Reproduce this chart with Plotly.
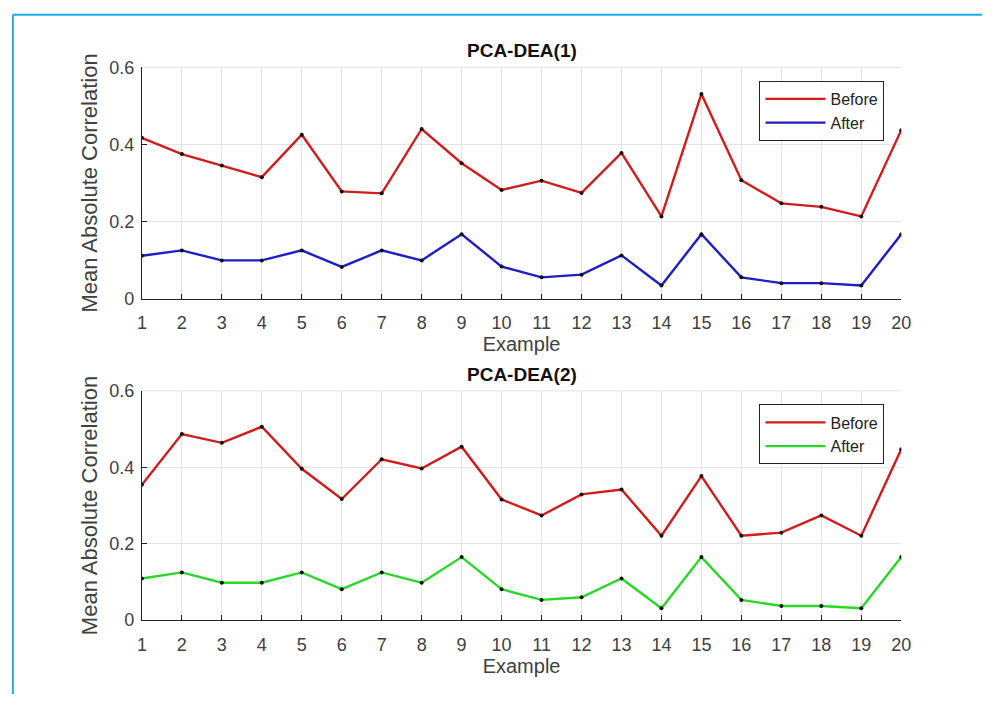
import plotly.graph_objects as go

examples = list(range(1, 21))
before_1 = [0.417, 0.375, 0.345, 0.315, 0.425, 0.278, 0.273, 0.440, 0.351, 0.282,
            0.306, 0.274, 0.378, 0.213, 0.531, 0.307, 0.247, 0.238, 0.213, 0.437]
after_1 = [0.111, 0.125, 0.099, 0.099, 0.125, 0.082, 0.125, 0.099, 0.167, 0.083,
           0.055, 0.062, 0.112, 0.034, 0.167, 0.055, 0.040, 0.040, 0.034, 0.167]
before_2 = [0.354, 0.487, 0.464, 0.506, 0.396, 0.317, 0.421, 0.397, 0.454, 0.316,
            0.274, 0.329, 0.342, 0.221, 0.377, 0.221, 0.229, 0.274, 0.221, 0.447]
after_2 = [0.109, 0.125, 0.098, 0.098, 0.125, 0.081, 0.125, 0.098, 0.165, 0.081,
           0.053, 0.060, 0.109, 0.031, 0.165, 0.053, 0.037, 0.037, 0.031, 0.165]
y_ticks = [0, 0.2, 0.4, 0.6]
y_tick_labels = ["0", "0.2", "0.4", "0.6"]
titles = ["PCA-DEA(1)", "PCA-DEA(2)"]
x_title = "Example"
y_title = "Mean Absolute Correlation"
series_names = ["Before", "After"]

RED = "#d01c1c"
BLUE = "#1e1ec4"
GREEN = "#2ad62a"
W, H = 992, 704
FONT = "Liberation Sans, Arial, sans-serif"

fig = go.Figure()

panels = [
    (before_1, after_1, BLUE, "x", "y", "legend"),
    (before_2, after_2, GREEN, "x2", "y2", "legend2"),
]
for bef, aft, col, xa, ya, lg in panels:
    for vals, c, name in [(bef, RED, series_names[0]), (aft, col, series_names[1])]:
        fig.add_trace(go.Scatter(x=examples, y=vals, mode="lines", name=name,
                                 line=dict(color=c, width=2.4), xaxis=xa, yaxis=ya,
                                 legend=lg))
        fig.add_trace(go.Scatter(x=examples, y=vals, mode="markers", showlegend=False,
                                 marker=dict(color="#111111", size=4), xaxis=xa, yaxis=ya))

x0, x1 = 139 / W, 910 / W
dom_top = [1 - 297 / H, 1 - 59 / H]
dom_bot = [1 - 628 / H, 1 - 392 / H]

axis_common = dict(
    showline=True, linecolor="#222222", linewidth=1, mirror=False,
    showgrid=True, gridcolor="#e3e3e3", gridwidth=1,
    ticks="inside", ticklen=5, tickcolor="#222222",
    tickfont=dict(family=FONT, size=18, color="#404040"),
    zeroline=False,
)

xaxis_cfg = dict(axis_common, range=[1, 20], tickvals=examples, ticklabelstandoff=8,
                 title=dict(text=x_title, font=dict(family=FONT, size=20, color="#404040"), standoff=4))
yaxis_cfg = dict(axis_common, range=[0, 0.6], tickvals=y_ticks, ticktext=y_tick_labels,
                 ticklabelstandoff=3,
                 title=dict(text=y_title, font=dict(family=FONT, size=22, color="#404040"), standoff=5))

fig.update_layout(
    width=W, height=H,
    margin=dict(l=0, r=0, t=0, b=0),
    paper_bgcolor="white", plot_bgcolor="white",
    font=dict(family=FONT),
    xaxis=dict(xaxis_cfg, domain=[x0, x1], anchor="y"),
    yaxis=dict(yaxis_cfg, domain=dom_top, anchor="x"),
    xaxis2=dict(xaxis_cfg, domain=[x0, x1], anchor="y2"),
    yaxis2=dict(yaxis_cfg, domain=dom_bot, anchor="x2"),
    legend=dict(x=893 / W, y=1 - 73 / H, xanchor="right", yanchor="top",
                bgcolor="white", bordercolor="#222222", borderwidth=1,
                font=dict(family=FONT, size=16, color="#222222"),
                itemwidth=60, tracegroupgap=0),
    legend2=dict(x=893 / W, y=1 - 406 / H, xanchor="right", yanchor="top",
                 bgcolor="white", bordercolor="#222222", borderwidth=1,
                 font=dict(family=FONT, size=16, color="#222222"),
                 itemwidth=60, tracegroupgap=0),
    showlegend=True,
)

# light top edge of each axes box
for dom in [dom_top, dom_bot]:
    fig.add_shape(type="line", xref="paper", yref="paper", x0=x0, x1=x1, y0=dom[1], y1=dom[1],
                  line=dict(color="#e3e3e3", width=1), layer="below")

# titles
for t, dom in zip(titles, [dom_top, dom_bot]):
    fig.add_annotation(text=f"<b>{t}</b>", xref="paper", yref="paper",
                       x=(x0 + x1) / 2, y=dom[1], yshift=4, xanchor="center", yanchor="bottom",
                       showarrow=False, font=dict(family=FONT, size=19, color="#111111"))

# outer light-blue frame (top and left edges)
fig.add_shape(type="line", xref="paper", yref="paper", x0=8 / W, x1=1.0, y0=1 - 5 / H, y1=1 - 5 / H,
              line=dict(color="#1eaaf0", width=2))
fig.add_shape(type="line", xref="paper", yref="paper", x0=8 / W, x1=8 / W, y0=0, y1=1 - 5 / H,
              line=dict(color="#1eaaf0", width=2))

fig.write_html("out.html", config={"displayModeBar": False},
               post_script="document.body.style.margin='0';document.body.style.padding='0';"
                           "document.body.style.overflow='hidden';")
